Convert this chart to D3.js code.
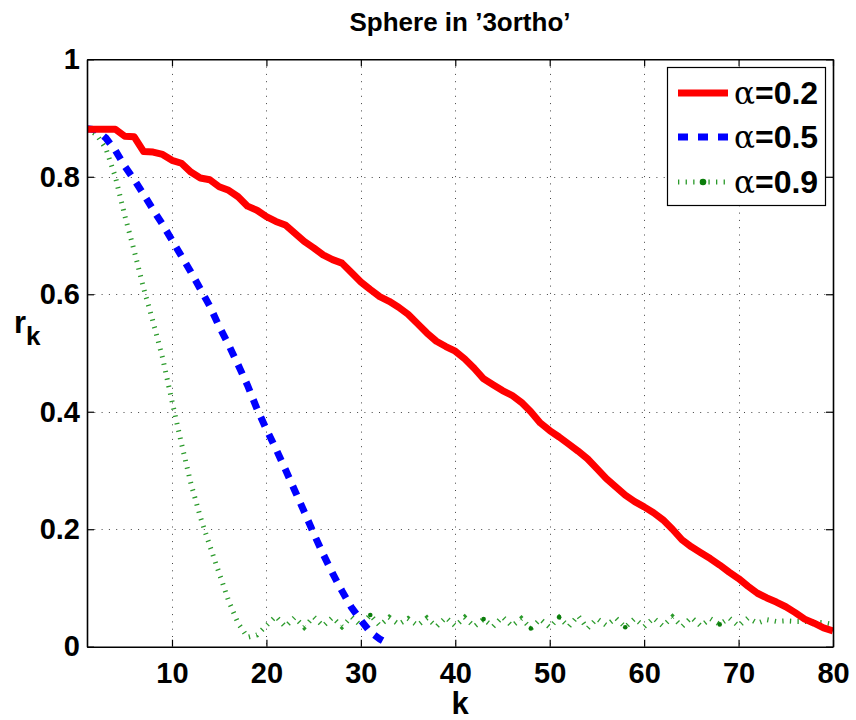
<!DOCTYPE html>
<html><head><meta charset="utf-8">
<script src="https://cdn.jsdelivr.net/npm/d3@7"></script>
<style>body{margin:0;background:#fff}svg{display:block}</style>
</head><body>
<script>
const ks = d3.range(1, 81);
const red02 = [0.881,0.881,0.881,0.881,0.869,0.868,0.843,0.842,0.838,0.828,
 0.823,0.808,0.798,0.795,0.783,0.777,0.766,0.750,0.743,0.732,
 0.724,0.718,0.704,0.690,0.679,0.667,0.659,0.653,0.637,0.621,
 0.608,0.596,0.588,0.578,0.566,0.550,0.534,0.520,0.511,0.503,
 0.490,0.474,0.456,0.446,0.436,0.428,0.416,0.400,0.381,0.368,
 0.357,0.345,0.333,0.320,0.303,0.286,0.272,0.258,0.247,0.238,
 0.228,0.216,0.200,0.182,0.170,0.160,0.150,0.139,0.127,0.116,
 0.103,0.091,0.083,0.076,0.068,0.058,0.047,0.040,0.032,0.027];
const blue05 = [0.882,0.880,0.866,0.845,0.818,0.795,0.770,0.744,0.719,0.692,
 0.665,0.638,0.609,0.580,0.545,0.514,0.480,0.445,0.405,0.370,
 0.337,0.302,0.266,0.230,0.193,0.158,0.125,0.095,0.067,0.045,
 0.025,0.013,0.004];
const green09 = [0.882,0.872,0.848,0.800,0.734,0.674,0.610,0.553,0.492,0.418,
 0.346,0.278,0.221,0.172,0.125,0.078,0.040,0.016,0.020,0.036,
 0.052,0.034,0.050,0.033,0.051,0.035,0.050,0.034,0.051,0.036,
 0.054,0.036,0.050,0.038,0.048,0.036,0.049,0.034,0.050,0.035,
 0.050,0.034,0.047,0.034,0.051,0.035,0.048,0.031,0.047,0.033,
 0.050,0.034,0.053,0.031,0.048,0.036,0.049,0.033,0.048,0.034,
 0.049,0.035,0.051,0.034,0.050,0.035,0.048,0.038,0.049,0.035,
 0.049,0.040,0.046,0.043,0.044,0.043,0.043,0.042,0.041,0.038];
const greenMarkerK = [31, 43, 48, 51, 58, 68];
const xTicks = [10,20,30,40,50,60,70,80];
const yTicks = [0,0.2,0.4,0.6,0.8,1];
const yTickLabels = ["0","0.2","0.4","0.6","0.8","1"];
const legendLabels = ["=0.2","=0.5","=0.9"];

const W = 856, H = 720;
const L = 87, R = 833, T = 59.3, B = 646.7;
const x = d3.scaleLinear().domain([1,80]).range([L,R]);
const y = d3.scaleLinear().domain([0,1]).range([B,T]);
const FONT = "'Liberation Sans', Arial, Helvetica, sans-serif";

const svg = d3.select("body").append("svg").attr("width",W).attr("height",H)
  .style("font-family", FONT);

svg.append("defs").append("clipPath").attr("id","clip")
  .append("rect").attr("x",L).attr("y",T).attr("width",R-L).attr("height",B-T);

// grid
const grid = svg.append("g").attr("stroke","#444").attr("stroke-width",1)
  .attr("stroke-dasharray","1,6.3").attr("fill","none");
grid.selectAll("line.gx").data(xTicks.filter(t=>t<80)).join("line")
  .attr("x1",d=>Math.round(x(d))+0.5).attr("x2",d=>Math.round(x(d))+0.5)
  .attr("y1",T).attr("y2",B);
grid.selectAll("line.gy").data(yTicks.filter(t=>t>0&&t<1)).join("line")
  .attr("x1",L).attr("x2",R)
  .attr("y1",d=>Math.round(y(d))+0.5).attr("y2",d=>Math.round(y(d))+0.5);

// lines
const plot = svg.append("g").attr("clip-path","url(#clip)");
const line = d3.line().x(d=>x(d[0])).y(d=>y(d[1]));
plot.append("path").datum(ks.map((k,i)=>[k,green09[i]]))
  .attr("d",line).attr("fill","none").attr("stroke","#2a9a2a")
  .attr("stroke-width",5).attr("stroke-dasharray","1.3,6.3");
plot.selectAll("circle.gm").data(greenMarkerK).join("circle")
  .attr("cx",k=>x(k)).attr("cy",k=>y(green09[k-1])).attr("r",2.3).attr("fill","#0b7d0b");
plot.append("path").datum(blue05.map((v,i)=>[i+1,v]))
  .attr("d",line).attr("fill","none").attr("stroke","#0000ff")
  .attr("stroke-width",7).attr("stroke-dasharray","10,9");
plot.append("path").datum(ks.map((k,i)=>[k,red02[i]]))
  .attr("d",line).attr("fill","none").attr("stroke","#ff0000")
  .attr("stroke-width",7).attr("stroke-linejoin","round");

// axes
const fs = 29;
const axB = svg.append("g").attr("transform",`translate(0,${B})`)
  .call(d3.axisBottom(x).tickValues(xTicks).tickSizeInner(-7).tickSizeOuter(0).tickPadding(16));
const axT = svg.append("g").attr("transform",`translate(0,${T})`)
  .call(d3.axisTop(x).tickValues(xTicks).tickSizeInner(-7).tickSizeOuter(0).tickFormat(""));
const axL = svg.append("g").attr("transform",`translate(${L},0)`)
  .call(d3.axisLeft(y).tickValues(yTicks).tickSizeInner(-7).tickSizeOuter(0).tickPadding(7)
    .tickFormat((d,i)=>yTickLabels[i]));
const axR = svg.append("g").attr("transform",`translate(${R},0)`)
  .call(d3.axisRight(y).tickValues(yTicks).tickSizeInner(-7).tickSizeOuter(0).tickFormat(""));
[axB,axT,axL,axR].forEach(a=>{
  a.select(".domain").attr("stroke","#000").attr("stroke-width",1.6);
  a.selectAll(".tick line").attr("stroke","#000").attr("stroke-width",1.2);
  a.selectAll("text").attr("font-family",FONT).attr("font-size",fs).attr("font-weight","bold").attr("fill","#000");
});

// title and labels
svg.append("text").attr("x",(L+R)/2).attr("y",31).attr("text-anchor","middle")
  .attr("font-size",26).attr("font-weight","bold").text("Sphere in \u20193ortho\u2019");
svg.append("text").attr("x",(L+R)/2).attr("y",714).attr("text-anchor","middle")
  .attr("font-size",31).attr("font-weight","bold").text("k");
const yl = svg.append("text").attr("x",14).attr("y",333).attr("font-size",31).attr("font-weight","bold");
yl.append("tspan").text("r");
yl.append("tspan").attr("font-size",26).attr("dy",12).text("k");

// legend
const lg = svg.append("g");
lg.append("rect").attr("x",667.5).attr("y",67.5).attr("width",158).attr("height",138)
  .attr("fill","#fff").attr("stroke","#000").attr("stroke-width",1.2);
const ly = [93,137,182];
lg.append("line").attr("x1",678).attr("x2",728).attr("y1",ly[0]).attr("y2",ly[0])
  .attr("stroke","#ff0000").attr("stroke-width",7);
lg.append("line").attr("x1",678).attr("x2",728).attr("y1",ly[1]).attr("y2",ly[1])
  .attr("stroke","#0000ff").attr("stroke-width",7).attr("stroke-dasharray","10,10");
lg.append("line").attr("x1",678).attr("x2",728).attr("y1",ly[2]).attr("y2",ly[2])
  .attr("stroke","#2a9a2a").attr("stroke-width",5).attr("stroke-dasharray","1.3,6.3");
lg.append("circle").attr("cx",703).attr("cy",ly[2]).attr("r",3.3).attr("fill","#0b7d0b");
legendLabels.forEach((t,i)=>{
  const tx = lg.append("text").attr("x",734).attr("y",ly[i]+11).attr("font-size",32);
  tx.append("tspan").attr("font-family","'DejaVu Serif', 'Liberation Serif', serif").attr("font-size",31).text("\u03b1");
  tx.append("tspan").attr("font-weight","bold").text(t);
});
</script>
</body></html>
